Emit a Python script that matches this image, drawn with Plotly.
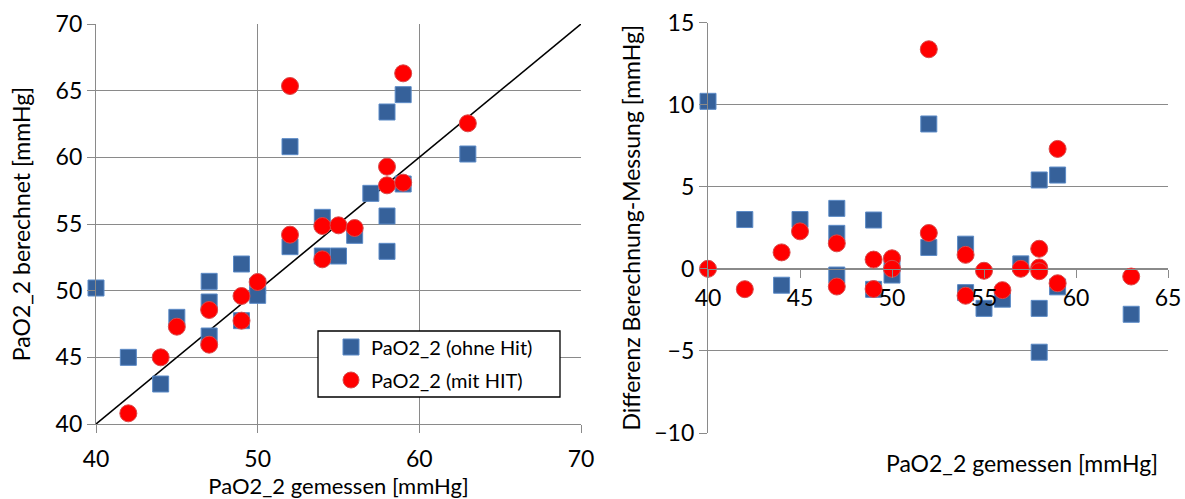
import plotly.graph_objects as go

# ---------------- data ----------------
# left chart: calculated vs measured
blue_x = [40, 42, 44, 45, 47, 47, 47, 49, 49, 50, 50, 52, 52, 54, 54, 55, 56, 57, 58, 58, 58, 59, 59, 63]
blue_y = [50.2, 45.0, 43.0, 48.0, 50.7, 49.15, 46.6, 52.0, 47.75, 50.35, 49.65, 60.8, 53.3, 55.5, 52.6,
          52.6, 54.15, 57.3, 63.4, 55.6, 52.95, 64.7, 58.0, 60.25]
red_x = [42, 44, 45, 47, 47, 49, 49, 50, 52, 52, 54, 54, 55, 56, 58, 58, 59, 59, 63]
red_y = [40.8, 45.0, 47.3, 48.55, 45.95, 49.6, 47.75, 50.65, 65.35, 54.2, 54.85, 52.35, 54.9, 54.7,
         59.3, 57.9, 66.3, 58.1, 62.55]

# right chart: difference calculated - measured
dblue_x = [40, 42, 44, 45, 47, 47, 47, 49, 49, 50, 50, 52, 52, 54, 54, 55, 56, 57, 58, 58, 58, 59, 59, 63]
dblue_y = [10.2, 3.0, -1.0, 3.0, 3.68, 2.16, -0.38, 2.97, -1.25, 0.35, -0.38, 8.82, 1.3, 1.5, -1.45,
           -2.41, -1.85, 0.3, 5.41, -2.41, -5.08, 5.71, -1.1, -2.77]
dred_x = [40, 42, 44, 45, 47, 47, 49, 49, 50, 50, 52, 52, 54, 54, 55, 56, 57, 58, 58, 58, 59, 59, 63]
dred_y = [0.0, -1.24, 1.0, 2.28, 1.55, -1.08, 0.56, -1.23, 0.64, 0.0, 13.37, 2.18, 0.85, -1.64, -0.12,
          -1.3, 0.0, 1.22, 0.08, -0.15, 7.3, -0.88, -0.47]

ident_x = [40, 70]
ident_y = [40, 70]

name_blue = "PaO2_2 (ohne Hit)"
name_red = "PaO2_2 (mit HIT)"

# ---------------- style ----------------
W, H = 1185, 499
GRID = "#8a8a8a"
BLUE_FILL = "#36619a"
BLUE_LINE = "#5b8ac6"
RED_FILL = "#ff0000"
RED_LINE = "#d94a4a"
FONT = "Lato, 'Open Sans', sans-serif"
TICK = 23
TITLE = 23
XTITLE = 22

blue_marker = dict(symbol="square", size=16, color=BLUE_FILL, line=dict(color=BLUE_LINE, width=1))
red_marker = dict(symbol="circle", size=17, color=RED_FILL, line=dict(color=RED_LINE, width=1))

fig = go.Figure()
fig.add_trace(go.Scatter(x=ident_x, y=ident_y, mode="lines", line=dict(color="black", width=1.6),
                         showlegend=False, hoverinfo="skip", xaxis="x", yaxis="y"))
fig.add_trace(go.Scatter(x=blue_x, y=blue_y, mode="markers", name=name_blue, marker=blue_marker,
                         cliponaxis=False, xaxis="x", yaxis="y", legend="legend"))
fig.add_trace(go.Scatter(x=red_x, y=red_y, mode="markers", name=name_red, marker=red_marker,
                         cliponaxis=False, xaxis="x", yaxis="y", legend="legend2"))
fig.add_trace(go.Scatter(x=dblue_x, y=dblue_y, mode="markers", name=name_blue, marker=blue_marker,
                         cliponaxis=False, xaxis="x2", yaxis="y2", showlegend=False))
fig.add_trace(go.Scatter(x=dred_x, y=dred_y, mode="markers", name=name_red, marker=red_marker,
                         cliponaxis=False, xaxis="x2", yaxis="y2", showlegend=False))

def py(p):
    return 1 - p / H

ax_common = dict(showline=True, linecolor=GRID, linewidth=1.3, ticks="outside", ticklen=8,
                 tickcolor=GRID, tickwidth=1.3, zeroline=False, gridcolor=GRID, gridwidth=1.3,
                 tickfont=dict(size=TICK, color="black"), automargin=False)

r_d0, r_d1 = py(433), py(22.5)
zero_pos = r_d0 + (0 - (-10)) / 25 * (r_d1 - r_d0)

fig.update_layout(
    width=W, height=H, margin=dict(l=0, r=0, t=0, b=0, autoexpand=False),
    paper_bgcolor="white", plot_bgcolor="white",
    font=dict(family=FONT, size=TITLE, color="black"),
    xaxis=dict(domain=[96 / W, 581 / W], range=[40, 70], tick0=40, dtick=10, showgrid=True,
               anchor="y", ticklabelstandoff=6,
               title=dict(text="PaO2_2 gemessen [mmHg]", standoff=3, font=dict(size=XTITLE)),
               **ax_common),
    yaxis=dict(domain=[py(424), py(24)], range=[40, 70], tick0=40, dtick=5, showgrid=True,
               anchor="x", title=dict(text="PaO2_2 berechnet [mmHg]", standoff=18, font=dict(size=TITLE)),
               **ax_common),
    xaxis2=dict(domain=[708 / W, 1168 / W], range=[40, 65], tick0=40, dtick=5, showgrid=False,
                anchor="free", position=zero_pos, **ax_common),
    yaxis2=dict(domain=[r_d0, r_d1], range=[-10, 15], tick0=-10, dtick=5, showgrid=True,
                anchor="x2", title=dict(text="Differenz Berechnung-Messung [mmHg]", standoff=7,
                                        font=dict(size=TITLE)),
                **ax_common),
    legend=dict(x=331 / W, y=py(347), xanchor="left", yanchor="middle", bgcolor="rgba(0,0,0,0)",
                borderwidth=0, font=dict(size=20, color="black"), itemsizing="trace"),
    legend2=dict(x=331 / W, y=py(380), xanchor="left", yanchor="middle", bgcolor="rgba(0,0,0,0)",
                 borderwidth=0, font=dict(size=20, color="black"), itemsizing="trace"),
    shapes=[dict(type="rect", xref="paper", yref="paper", x0=318 / W, x1=560 / W,
                 y0=py(397), y1=py(331), line=dict(color="black", width=1.3),
                 fillcolor="white", layer="above")],
    annotations=[dict(text="PaO2_2 gemessen [mmHg]", xref="paper", yref="paper",
                      x=1022 / W, y=py(463), xanchor="center", yanchor="middle",
                      showarrow=False, font=dict(size=23, color="black"))],
)

fig.write_html("out.html")
